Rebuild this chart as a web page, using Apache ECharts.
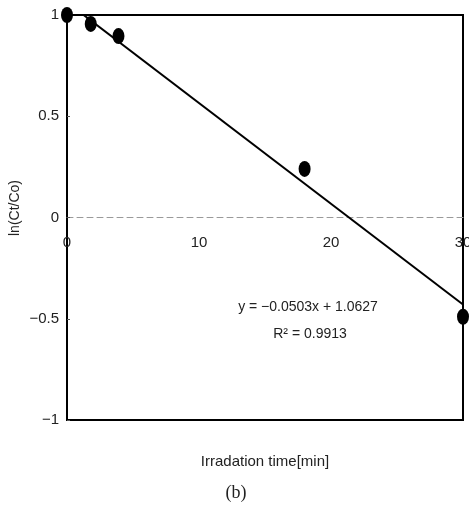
<!DOCTYPE html>
<html>
<head>
<meta charset="utf-8">
<script src="https://cdn.jsdelivr.net/npm/echarts@6/dist/echarts.min.js"></script>
<style>
  html, body { margin: 0; padding: 0; background: #fff; }
  #chart { width: 469px; height: 512px; }
</style>
</head>
<body>
<div id="chart"></div>
<script>
// measured points, ln(Ct/Co) vs irradiation time
const timeMin = [0, 1.8, 3.9, 18, 30]
const lnRatio = [1.0, 0.956, 0.896, 0.24, -0.49]

// fitted trend line end points (clipped at the top by the axis)
const trendX = [0, 30]
const trendY = [1.0627, -0.43]

const xTicks = [0, 10, 20, 30]
const yTicks = [-1, -0.5, 0, 0.5, 1]

const fontFamily = '"Liberation Sans", Arial, sans-serif'

const chart = echarts.init(document.getElementById('chart'), null, { renderer: 'canvas' })

chart.setOption({
  animation: false,
  backgroundColor: '#fff',
  grid: {
    left: 67,
    right: 6,
    top: 15,
    bottom: 92,
    outerBoundsMode: 'none',
    containLabel: false,
    show: true,
    borderColor: '#000',
    borderWidth: 2,
    backgroundColor: 'transparent',
  },
  xAxis: {
    type: 'value',
    position: 'bottom',
    // sit the axis on y = 0 (plot height 405px, zero in the middle)
    offset: -202.5,
    min: xTicks[0],
    max: xTicks[xTicks.length - 1],
    interval: 10,
    axisLine: {
      onZero: false,
      lineStyle: { color: '#9a9a9a', width: 1, type: [6, 4] },
    },
    axisTick: { show: false },
    splitLine: { show: false },
    axisLabel: {
      margin: 18,
      color: '#222',
      fontSize: 15,
      fontFamily,
    },
  },
  yAxis: {
    type: 'value',
    min: yTicks[0],
    max: yTicks[yTicks.length - 1],
    interval: 0.5,
    axisLine: { show: true, onZero: false, lineStyle: { color: '#000', width: 2 } },
    axisTick: { show: true, inside: true, length: 3, lineStyle: { color: '#555' } },
    splitLine: { show: false },
    axisLabel: {
      margin: 8,
      color: '#222',
      fontSize: 15,
      fontFamily,
      formatter: (v) => String(v).replace('-', '\u2212'),
    },
  },
  series: [
    {
      type: 'line',
      data: trendX.map((x, i) => [x, trendY[i]]),
      showSymbol: false,
      clip: true,
      lineStyle: { color: '#000', width: 2 },
      z: 2,
    },
    {
      type: 'scatter',
      data: timeMin.map((x, i) => [x, lnRatio[i]]),
      symbol: 'circle',
      symbolSize: [12, 16],
      itemStyle: { color: '#000', opacity: 1 },
      clip: false,
      z: 3,
    },
  ],
  graphic: [
    {
      type: 'text',
      x: 15,
      y: 208,
      rotation: Math.PI / 2,
      style: {
        text: 'ln(Ct/Co)',
        fill: '#222',
        font: '14px ' + fontFamily,
        align: 'center',
        verticalAlign: 'middle',
      },
    },
    {
      type: 'text',
      x: 265,
      y: 462,
      style: {
        text: 'Irradation time[min]',
        fill: '#222',
        font: '15px ' + fontFamily,
        align: 'center',
        verticalAlign: 'middle',
      },
    },
    {
      type: 'text',
      x: 236,
      y: 493,
      style: {
        text: '(b)',
        fill: '#222',
        font: '18px "Liberation Serif", "DejaVu Serif", serif',
        align: 'center',
        verticalAlign: 'middle',
      },
    },
    {
      type: 'text',
      x: 308,
      y: 307,
      style: {
        text: 'y = \u22120.0503x + 1.0627',
        fill: '#222',
        font: '14px ' + fontFamily,
        align: 'center',
        verticalAlign: 'middle',
      },
    },
    {
      type: 'text',
      x: 310,
      y: 334,
      style: {
        text: 'R\u00b2 = 0.9913',
        fill: '#222',
        font: '14px ' + fontFamily,
        align: 'center',
        verticalAlign: 'middle',
      },
    },
  ],
})
</script>
</body>
</html>
